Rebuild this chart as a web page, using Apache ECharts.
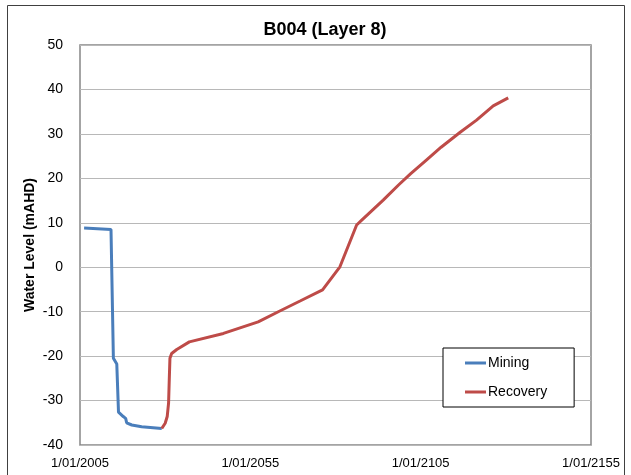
<!DOCTYPE html>
<html>
<head>
<meta charset="utf-8">
<script src="https://cdn.jsdelivr.net/npm/echarts@6/dist/echarts.min.js"></script>
<style>
html,body{margin:0;padding:0;background:#fff;}
#chart{width:631px;height:475px;}
</style>
</head>
<body>
<div id="chart"></div>
<script>
var chartTitle = 'B004 (Layer 8)';
var yAxisTitle = 'Water Level (mAHD)';
var xTickYears = [2005, 2055, 2105, 2155];
var seriesNames = ['Mining', 'Recovery'];

var miningYears  = [2006.2, 2014.1, 2014.8, 2015.8, 2016.3, 2017.7, 2018.4, 2018.7, 2020.2, 2023.1, 2029.0];
var miningLevels = [8.8, 8.5, -20.5, -21.8, -32.6, -33.6, -34.0, -35.0, -35.5, -35.9, -36.3];

var recoveryYears  = [2029.0, 2030.0, 2030.6, 2031.0, 2031.2, 2031.4, 2031.9, 2033.4, 2037.1, 2047.1, 2057.3, 2063.5, 2069.6, 2076.2, 2081.3, 2086.2, 2087.7, 2094.0, 2098.5, 2102.0, 2106.5, 2111.0, 2116.5, 2121.4, 2126.3, 2130.7];
var recoveryLevels = [-36.3, -35.1, -33.6, -30.6, -25.4, -20.5, -19.4, -18.5, -16.8, -14.9, -12.3, -9.9, -7.6, -5.1, 0.1, 9.5, 10.6, 15.1, 18.5, 21.0, 24.0, 27.0, 30.3, 33.1, 36.3, 38.1];

function pairs(xs, ys) { return xs.map(function (x, i) { return [x, ys[i]]; }); }

var font = 'Liberation Sans, Arial, sans-serif';
var chart = echarts.init(document.getElementById('chart'), null, {renderer: 'canvas'});
chart.setOption({
  backgroundColor: '#ffffff',
  animation: false,
  title: {
    text: chartTitle,
    left: 320, top: 16, textAlign: 'center',
    textStyle: {fontFamily: font, fontSize: 18, fontWeight: 'bold', color: '#000'}
  },
  graphic: [{
    type: 'rect', silent: true,
    shape: {x: 7.5, y: 5.5, width: 617, height: 480},
    style: {fill: 'none', stroke: '#404040', lineWidth: 1}
  }],
  grid: {left: 80, right: 40, top: 45, bottom: 30, show: true, borderColor: '#868686', borderWidth: 1.5},
  legend: {
    orient: 'vertical',
    left: 443, top: 348,
    padding: [8, 27, 8, 22],
    itemGap: 15,
    itemWidth: 21, itemHeight: 3,
    icon: 'rect',
    borderColor: '#000', borderWidth: 1,
    backgroundColor: '#fff',
    textStyle: {fontFamily: font, fontSize: 14, color: '#000', padding: [0, 0, 0, -3]},
    data: seriesNames
  },
  xAxis: {
    type: 'value', min: xTickYears[0], max: xTickYears[xTickYears.length - 1], interval: 50,
    axisLine: {show: false}, axisTick: {show: false}, splitLine: {show: false},
    axisLabel: {fontFamily: font, fontSize: 13, color: '#000', margin: 12,
      formatter: function (v) { return '1/01/' + v; }}
  },
  yAxis: {
    type: 'value', min: -40, max: 50, interval: 10,
    name: yAxisTitle, nameLocation: 'middle', nameGap: 43, nameRotate: 90,
    nameMoveOverlap: false,
    nameTextStyle: {fontFamily: font, fontSize: 14, fontWeight: 'bold', color: '#000'},
    axisLine: {show: false}, axisTick: {show: false},
    splitLine: {lineStyle: {color: '#b8b8b8', width: 1}},
    axisLabel: {fontFamily: font, fontSize: 14, color: '#000', margin: 17}
  },
  series: [
    {name: seriesNames[0], type: 'line', data: pairs(miningYears, miningLevels), showSymbol: false,
      lineStyle: {color: '#4a7ebb', width: 3}, itemStyle: {color: '#4a7ebb'}, z: 3},
    {name: seriesNames[1], type: 'line', data: pairs(recoveryYears, recoveryLevels), showSymbol: false,
      lineStyle: {color: '#be4b48', width: 3}, itemStyle: {color: '#be4b48'}, z: 3}
  ]
});
</script>
</body>
</html>
